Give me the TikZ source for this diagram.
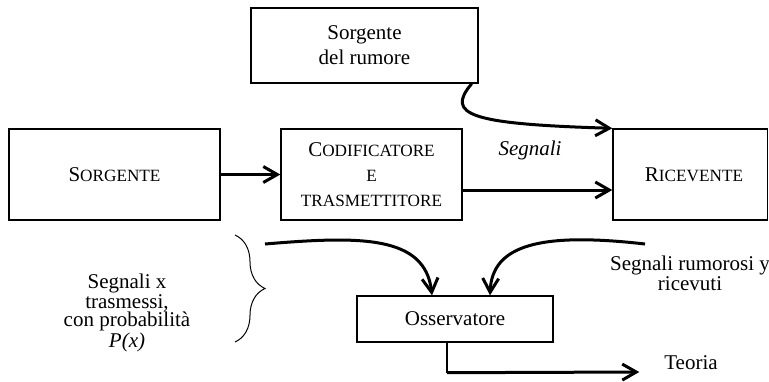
\documentclass[tikz,border=0pt]{standalone}
\usepackage{fontspec}
\setmainfont{Liberation Serif}
\usetikzlibrary{arrows.meta,decorations.pathreplacing,positioning}
\newcommand{\smc}[1]{{\fontsize{8.6}{12}\selectfont #1}}

\begin{document}
\begin{tikzpicture}[x=0.5pt, y=-0.5pt, font=\fontsize{10.5}{12.5}\selectfont,
	box/.style={draw, line width=0.7pt, align=center, inner sep=0pt, minimum height=45.5pt},
	arr/.style={line width=1.5pt, -{Straight Barb[length=7pt,width=8pt]}}]
	\useasboundingbox (0,0) rectangle (769,381);
	\node[box, minimum width=113.5pt, minimum height=37.5pt] (rumore) at (364.5,45.5) {Sorgente\\del rumore};
	\node[box, minimum width=105.5pt] (sorg) at (114.5,174.5) {S\smc{ORGENTE}};
	\node[box, minimum width=90.5pt] (cod) at (371.5,174.5) {C\smc{ODIFICATORE}\\\smc{E}\\\smc{TRASMETTITORE}};
	\node[box, minimum width=77.25pt, text width=52.75pt, align=right] (ric) at (690.25,174.5) {R\smc{ICEVENTE}};
	\node[box, minimum width=98pt, minimum height=23pt] (oss) at (455,319) {Osservatore};
	\node[font=\fontsize{10.5}{12.5}\selectfont\itshape] (segn) at (530,150) {Segnali};
	\node[align=center, font=\fontsize{10.5}{9}\selectfont] (trasm) at (127,313) {Segnali x\\trasmessi,\\con probabilità\\\textit{P(x)}};
	\node[align=center, font=\fontsize{10.5}{10}\selectfont] (ricev) at (690,273) {Segnali rumorosi y\\ricevuti};
	\node (teo) at (691,363) {Teoria};
	\coordinate (bt) at (235,235);
	\coordinate (bb) at (235,342);
	\draw[line width=0.5pt, decorate, decoration={brace, amplitude=15pt}] (bt) -- (bb);
	\coordinate (inL) at (265,244);
	\coordinate (inR) at (645,244);
	\draw[arr] (sorg) -- (cod);
	\draw[arr] ([yshift=-7.75pt]cod.east) -- ([yshift=-7.75pt]ric.west);
	\draw[arr] ([xshift=-3.5pt]rumore.south east) .. controls (445,115) and (470,124) .. (ric.north west);
	\draw[arr] (inL) .. controls (360,236) and (425,235) .. ([xshift=-11.5pt]oss.north);
	\draw[arr] (inR) .. controls (540,232) and (492,245) .. ([xshift=17.5pt]oss.north);
	\coordinate (knee) at ([xshift=-4pt,yshift=-15pt]oss.south);
	\draw[line width=0.6pt] ([xshift=-4pt]oss.south) -- (knee);
	\draw[arr] (knee) -- ([xshift=-9pt,yshift=-4.5pt]teo.west);
\end{tikzpicture}
\end{document}
